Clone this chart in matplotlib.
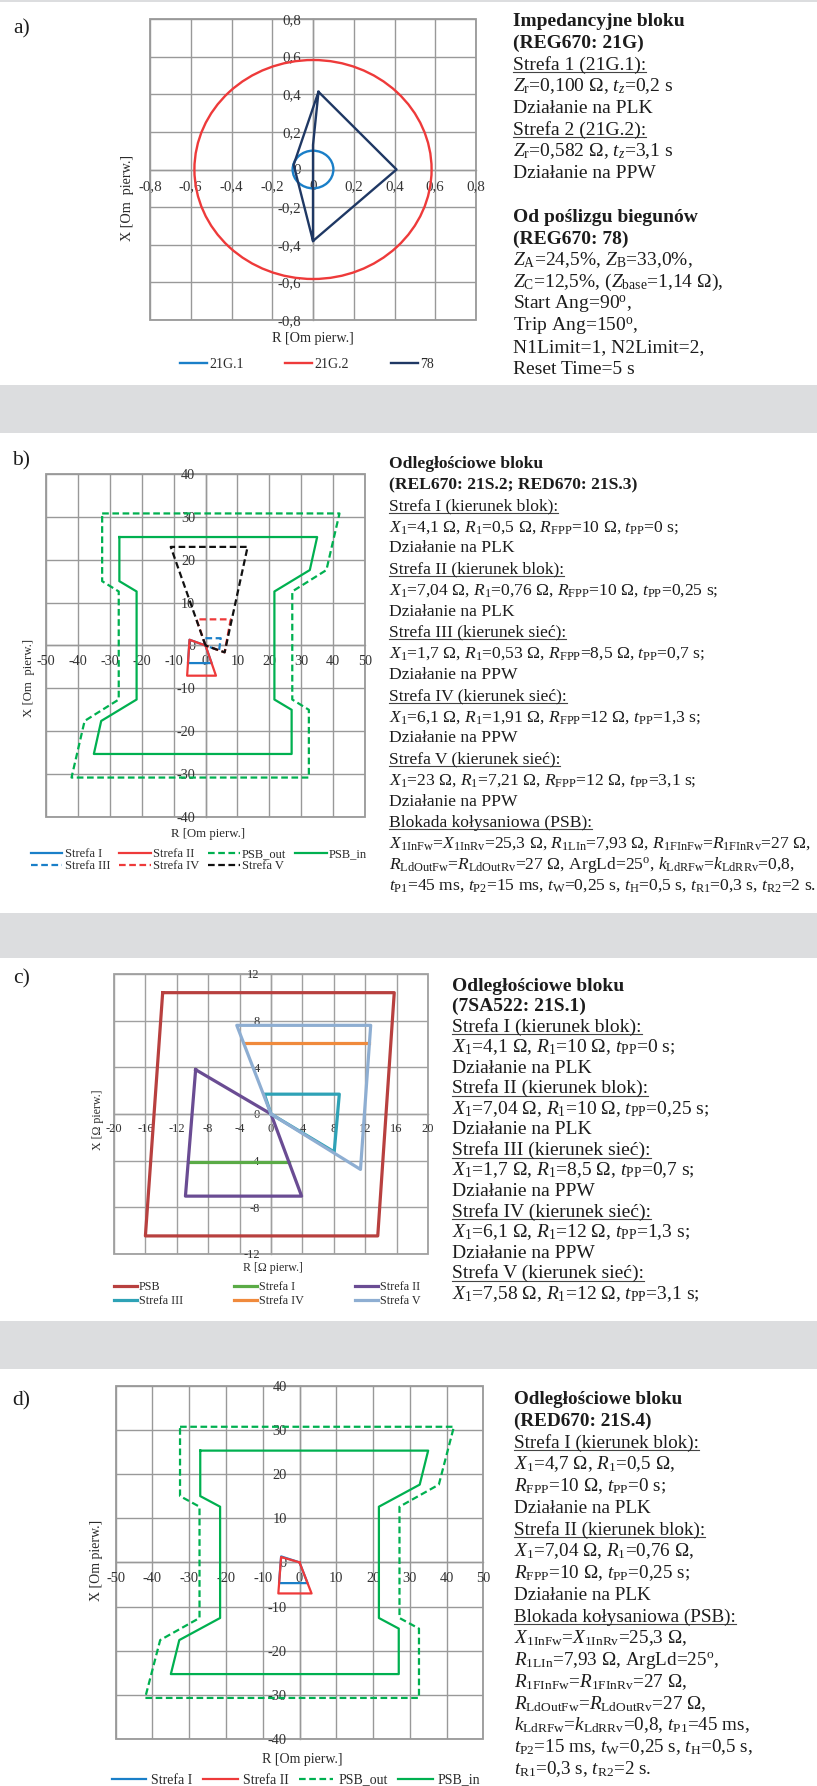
import matplotlib
matplotlib.use('Agg')
import matplotlib.pyplot as plt
from matplotlib.patches import Circle, Rectangle
from matplotlib.lines import Line2D

W, H = 817, 1786
plt.rcParams['font.family'] = ['Liberation Serif', 'DejaVu Serif']
plt.rcParams['mathtext.fontset'] = 'custom'
plt.rcParams['mathtext.rm'] = 'Liberation Serif'
plt.rcParams['mathtext.it'] = 'Liberation Serif:italic'
plt.rcParams['mathtext.bf'] = 'Liberation Serif:bold'

# ------------------------------------------------------------------ data
# panel a) REG670 21G / 78
a_ticks = [-0.8, -0.6, -0.4, -0.2, 0.0, 0.2, 0.4, 0.6, 0.8]
a_ticklabels = ['-0,8', '-0,6', '-0,4', '-0,2', '0', '0,2', '0,4', '0,6', '0,8']
a_21g1_radius = 0.100
a_21g2_radius = 0.582
a_78_R = [0.0, -0.095, 0.027, 0.41, 0.0, 0.0, 0.027]
a_78_X = [-0.38, 0.025, 0.413, 0.0, -0.38, 0.13, 0.413]

# panel b) REL670 / RED670
b_xticks = [-50, -40, -30, -20, -10, 0, 10, 20, 30, 40, 50]
b_xticklabels = ['-50', '-40', '-30', '-20', '-10', '0', '10', '20', '30', '40', '50']
b_yticks = [-40, -30, -20, -10, 0, 10, 20, 30, 40]
b_yticklabels = ['-40', '-30', '-20', '-10', '0', '10', '20', '30', '40']
b_s1_R = [0.0, -5.0, -5.5, 1.9, 0.0]
b_s1_X = [0.0, 1.34, -4.1, -4.1, 0.0]
b_s2_R = [0.0, -5.0, -5.76, 3.28, 0.0]
b_s2_X = [0.0, 1.34, -7.04, -7.04, 0.0]
b_psbout_R = [-32.4, 42.0, 37.9, 27.2, 27.2, 32.4, 32.4, -42.0, -37.9, -27.2, -27.2, -32.4, -32.4]
b_psbout_X = [30.8, 30.8, 17.6, 12.6, -12.6, -15.0, -30.8, -30.8, -17.6, -12.6, 12.6, 15.0, 30.8]
b_psbin_R = [-27.0, 35.0, 32.7, 21.6, 21.6, 27.0, 27.0, -35.0, -32.7, -21.6, -21.6, -27.0, -27.0]
b_psbin_X = [25.3, 25.3, 17.6, 12.6, -12.6, -15.0, -25.3, -25.3, -17.6, -12.6, 12.6, 15.0, 25.3]
b_s3_R = [0.0, -0.8, 4.78, 4.25, 0.0]
b_s3_X = [0.0, 1.7, 1.7, -1.14, 0.0]
b_s4_R = [0.0, -2.84, 7.9, 6.0, 0.0]
b_s4_X = [0.0, 6.1, 6.1, -1.6, 0.0]
b_s5_R = [0.0, -10.9, 13.2, 6.0, 0.0]
b_s5_X = [0.0, 23.0, 23.0, -1.6, 0.0]

# panel c) 7SA522
c_xticks = [-20, -16, -12, -8, -4, 0, 4, 8, 12, 16, 20]
c_xticklabels = ['-20', '-16', '-12', '-8', '-4', '0', '4', '8', '12', '16', '20']
c_yticks = [-12, -8, -4, 0, 4, 8, 12]
c_yticklabels = ['-12', '-8', '-4', '0', '4', '8', '12']
c_psb_R = [-13.8, 15.7, 13.6, -16.0, -13.8]
c_psb_X = [10.4, 10.4, -10.45, -10.45, 10.4]
c_s1_R = [-10.5, 2.25]
c_s1_X = [-4.1, -4.1]
c_s2_R = [-9.6, 0.0, 3.9, -10.9, -9.6]
c_s2_X = [3.8, 0.0, -7.04, -7.04, 3.8]
c_s3_R = [0.0, -0.85, 8.7, 8.05, 0.0]
c_s3_X = [0.0, 1.7, 1.7, -3.25, 0.0]
c_s4_R = [-3.45, 12.5]
c_s4_X = [6.1, 6.1]
c_s5_R = [0.0, -4.36, 12.7, 11.4, 0.0]
c_s5_X = [0.0, 7.6, 7.6, -4.75, 0.0]

# panel d) RED670 21S.4
d_xticks = b_xticks
d_xticklabels = b_xticklabels
d_yticks = b_yticks
d_yticklabels = b_yticklabels
d_s1_R = [0.0, -5.0, -5.57, 2.19, 0.0]
d_s1_X = [0.0, 1.34, -4.7, -4.7, 0.0]
d_s2_R = [0.0, -5.0, -5.76, 3.28, 0.0]
d_s2_X = [0.0, 1.2, -7.04, -7.04, 0.0]
d_psbout_R = [-32.5, 42.0, 37.9, 27.2, 27.2, 32.5, 32.5, -42.0, -37.9, -27.2, -27.2, -32.5, -32.5]
d_psbout_X = [30.7, 30.7, 17.6, 12.6, -12.6, -15.0, -30.7, -30.7, -17.6, -12.6, 12.6, 15.0, 30.7]
d_psbin_R = [-27.0, 35.0, 32.7, 21.6, 21.6, 27.0, 27.0, -35.0, -32.7, -21.6, -21.6, -27.0, -27.0]
d_psbin_X = [25.3, 25.3, 17.6, 12.6, -12.6, -15.0, -25.3, -25.3, -17.6, -12.6, 12.6, 15.0, 25.3]

# ------------------------------------------------------------------ helpers
TXT = '#1c1c1c'
GRID = '#999999'
TICK = '#333333'

fig = plt.figure(figsize=(W / 100, H / 100), dpi=100)
fig.patch.set_facecolor('white')


def fx(px):
    return px / W


def fy(py):
    return 1 - py / H


def band(top, bottom):
    fig.add_artist(Rectangle((0, fy(bottom)), 1, (bottom - top) / H,
                             transform=fig.transFigure, facecolor='#dcdddf',
                             edgecolor='none', zorder=0))


def add_axes_px(left, top, right, bottom):
    return fig.add_axes([fx(left), fy(bottom), (right - left) / W, (bottom - top) / H])


def style_axes(ax, xt, xl, yt, yl, fs, xpad, ypad, gridc=GRID):
    ax.set_xlim(xt[0], xt[-1])
    ax.set_ylim(yt[0], yt[-1])
    ax.set_xticks(xt)
    ax.set_xticklabels(xl)
    ax.set_yticks(yt)
    ax.set_yticklabels(yl)
    ax.grid(True, color=gridc, linewidth=1.0)
    ax.set_axisbelow(True)
    for s in ['top', 'right']:
        ax.spines[s].set_visible(False)
    ax.spines['left'].set_position(('data', 0))
    ax.spines['bottom'].set_position(('data', 0))
    for s in ['left', 'bottom']:
        ax.spines[s].set_color(gridc)
        ax.spines[s].set_linewidth(1.0)
    ax.patch.set_edgecolor(gridc)
    ax.patch.set_linewidth(1.3)
    ax.tick_params(axis='x', length=0, pad=xpad, labelsize=fs, labelcolor=TICK)
    ax.tick_params(axis='y', length=0, pad=ypad, labelsize=fs, labelcolor=TICK)


def add_legend(ax, handles, labels, ncol, x, y, fs, hl, htp, cs, ls=0.0):
    leg = ax.legend(handles, labels, ncol=ncol, loc='center left',
                    bbox_to_anchor=(fx(x), fy(y)), bbox_transform=fig.transFigure,
                    frameon=False, fontsize=fs, handlelength=hl, handletextpad=htp,
                    columnspacing=cs, labelspacing=ls, borderpad=0, borderaxespad=0)
    for t in leg.get_texts():
        t.set_color('#2a2a2a')
    return leg


def label_px(s, x, y, fs, rot=0, color='#2a2a2a'):
    fig.text(fx(x), fy(y), s, fontsize=fs, rotation=rot, ha='center', va='center', color=color)


underlined = []


def text_block(lines, x, y0, step, fs):
    for i, (kind, s) in enumerate(lines):
        if not s:
            continue
        y = y0 + i * step
        t = fig.text(fx(x), fy(y), s, fontsize=fs,
                     fontweight='bold' if kind == 'B' else 'normal',
                     color=TXT, ha='left', va='baseline')
        if kind == 'U':
            underlined.append((t, y, fs))


def v(sym, sub):
    return r'$\mathit{%s}_{\mathrm{%s}}$' % (sym, sub)


DEG = r'$^{\mathrm{o}}$'

# ------------------------------------------------------------------ bands
band(0, 1.5)
band(385, 433)
band(913, 958)
band(1321, 1369)

# ------------------------------------------------------------------ panel a
axa = add_axes_px(150, 19, 476, 320)
style_axes(axa, a_ticks, a_ticklabels, a_ticks, a_ticklabels, 10.8, 7.5, 8.5)
c_blue = '#1a7fc8'
c_red = '#ee3a3a'
c_navy = '#1f3864'
axa.add_patch(Circle((0, 0), a_21g1_radius, fill=False, edgecolor=c_blue, lw=1.7, zorder=3))
axa.add_patch(Circle((0, 0), a_21g2_radius, fill=False, edgecolor=c_red, lw=1.7, zorder=3))
l78, = axa.plot(a_78_R, a_78_X, color=c_navy, lw=1.7, zorder=4)
pa1 = Line2D([], [], color=c_blue, lw=1.7)
pa2 = Line2D([], [], color=c_red, lw=1.7)
add_legend(axa, [pa1, pa2, l78], ['21G.1', '21G.2', '78'], 3, 180, 364, 10, 1.95, 0.15, 3.0)
label_px('R [Om pierw.]', 313, 338, 10.2)
label_px('X [Om  pierw.]', 128, 198, 10.2, rot=90)
fig.text(fx(13), fy(33), 'a)', fontsize=15.5, color=TXT, ha='left', va='baseline')

a_lines = [
    ('B', 'Impedancyjne bloku'),
    ('B', '(REG670: 21G)'),
    ('U', 'Strefa 1 (21G.1):'),
    ('N', v('Z', 'r') + '=0,100 Ω, ' + r'$\mathit{t}_{\mathit{z}}$' + '=0,2 s'),
    ('N', 'Działanie na PLK'),
    ('U', 'Strefa 2 (21G.2):'),
    ('N', v('Z', 'r') + '=0,582 Ω, ' + r'$\mathit{t}_{\mathit{z}}$' + '=3,1 s'),
    ('N', 'Działanie na PPW'),
    ('N', ''),
    ('B', 'Od poślizgu biegunów'),
    ('B', '(REG670: 78)'),
    ('N', v('Z', 'A') + '=24,5%, ' + v('Z', 'B') + '=33,0%,'),
    ('N', v('Z', 'C') + '=12,5%, (' + v('Z', 'base') + '=1,14 Ω),'),
    ('N', 'Start Ang=90' + DEG + ','),
    ('N', 'Trip Ang=150' + DEG + ','),
    ('N', 'N1Limit=1, N2Limit=2,'),
    ('N', 'Reset Time=5 s'),
]
text_block(a_lines, 513, 26, 21.75, 14)

# ------------------------------------------------------------------ panel b
axb = add_axes_px(46, 474, 365, 817)
style_axes(axb, b_xticks, b_xticklabels, b_yticks, b_yticklabels, 10.2, 7, 7.5)
c_green = '#00b050'
c_black = '#111111'
dash = (0, (3, 1.6))
lw_b = 1.6
hb1, = axb.plot(b_s1_R, b_s1_X, color=c_blue, lw=lw_b, zorder=3)
hb2, = axb.plot(b_s2_R, b_s2_X, color=c_red, lw=lw_b, zorder=3)
hb3, = axb.plot(b_psbout_R, b_psbout_X, color=c_green, lw=lw_b, ls=dash, zorder=3)
hb4, = axb.plot(b_psbin_R, b_psbin_X, color=c_green, lw=lw_b, zorder=3)
hb5, = axb.plot(b_s3_R, b_s3_X, color=c_blue, lw=lw_b, ls=dash, zorder=3)
hb6, = axb.plot(b_s4_R, b_s4_X, color=c_red, lw=lw_b, ls=dash, zorder=3)
hb7, = axb.plot(b_s5_R, b_s5_X, color=c_black, lw=lw_b, ls=dash, zorder=3)
add_legend(axb, [hb1, hb5, hb2, hb6, hb3, hb7, hb4],
           ['Strefa I', 'Strefa III', 'Strefa II', 'Strefa IV', 'PSB_out', 'Strefa V', 'PSB_in'],
           4, 31, 860, 9, 2.5, 0.2, 0.72, 0.0)
label_px('R [Om pierw.]', 208, 834, 9.2)
label_px('X [Om  pierw.]', 29, 678, 9.2, rot=90)
fig.text(fx(12), fy(465), 'b)', fontsize=15.5, color=TXT, ha='left', va='baseline')

b_lines = [
    ('B', 'Odległościowe bloku'),
    ('B', '(REL670: 21S.2; RED670: 21S.3)'),
    ('U', 'Strefa I (kierunek blok):'),
    ('N', v('X', '1') + '=4,1 Ω, ' + v('R', '1') + '=0,5 Ω, ' + v('R', 'FPP') + '=10 Ω, ' + v('t', 'PP') + '=0 s;'),
    ('N', 'Działanie na PLK'),
    ('U', 'Strefa II (kierunek blok):'),
    ('N', v('X', '1') + '=7,04 Ω, ' + v('R', '1') + '=0,76 Ω, ' + v('R', 'FPP') + '=10 Ω, ' + v('t', 'PP') + '=0,25 s;'),
    ('N', 'Działanie na PLK'),
    ('U', 'Strefa III (kierunek sieć):'),
    ('N', v('X', '1') + '=1,7 Ω, ' + v('R', '1') + '=0,53 Ω, ' + v('R', 'FPP') + '=8,5 Ω, ' + v('t', 'PP') + '=0,7 s;'),
    ('N', 'Działanie na PPW'),
    ('U', 'Strefa IV (kierunek sieć):'),
    ('N', v('X', '1') + '=6,1 Ω, ' + v('R', '1') + '=1,91 Ω, ' + v('R', 'FPP') + '=12 Ω, ' + v('t', 'PP') + '=1,3 s;'),
    ('N', 'Działanie na PPW'),
    ('U', 'Strefa V (kierunek sieć):'),
    ('N', v('X', '1') + '=23 Ω, ' + v('R', '1') + '=7,21 Ω, ' + v('R', 'FPP') + '=12 Ω, ' + v('t', 'PP') + '=3,1 s;'),
    ('N', 'Działanie na PPW'),
    ('U', 'Blokada kołysaniowa (PSB):'),
    ('N', v('X', '1InFw') + '=' + v('X', '1InRv') + '=25,3 Ω, ' + v('R', '1LIn') + '=7,93 Ω, '
     + v('R', '1FInFw') + '=' + v('R', '1FInRv') + '=27 Ω,'),
    ('N', v('R', 'LdOutFw') + '=' + v('R', 'LdOutRv') + '=27 Ω, ArgLd=25' + DEG + ', '
     + v('k', 'LdRFw') + '=' + v('k', 'LdRRv') + '=0,8,'),
    ('N', v('t', 'P1') + '=45 ms, ' + v('t', 'P2') + '=15 ms, ' + v('t', 'W') + '=0,25 s, '
     + v('t', 'H') + '=0,5 s, ' + v('t', 'R1') + '=0,3 s, ' + v('t', 'R2') + '=2 s.'),
]
text_block(b_lines, 389, 468, 21.1, 12.6)

# ------------------------------------------------------------------ panel c
axc = add_axes_px(114, 974, 428, 1254)
style_axes(axc, c_xticks, c_xticklabels, c_yticks, c_yticklabels, 9, 6.5, 8, gridc='#a0a0a0')
lw_c = 2.3
hc1, = axc.plot(c_psb_R, c_psb_X, color='#b8403f', lw=lw_c, zorder=3)
hc2, = axc.plot(c_s1_R, c_s1_X, color='#5aab46', lw=lw_c, zorder=3)
hc3, = axc.plot(c_s2_R, c_s2_X, color='#6a4c93', lw=lw_c, zorder=3)
hc4, = axc.plot(c_s3_R, c_s3_X, color='#2ea2b6', lw=lw_c, zorder=3)
hc5, = axc.plot(c_s4_R, c_s4_X, color='#f08a3c', lw=lw_c, zorder=3)
hc6, = axc.plot(c_s5_R, c_s5_X, color='#8eaed2', lw=lw_c, zorder=3)
add_legend(axc, [hc1, hc4, hc2, hc5, hc3, hc6],
           ['PSB', 'Strefa III', 'Strefa I', 'Strefa IV', 'Strefa II', 'Strefa V'],
           3, 113.6, 1294, 8.7, 1.95, 0.15, 4.2, 0.2)
label_px('R [Ω pierw.]', 273, 1268, 8.6)
label_px('X [Ω pierw.]', 98, 1120, 8.6, rot=90)
fig.text(fx(13), fy(983), 'c)', fontsize=15.5, color=TXT, ha='left', va='baseline')

c_lines = [
    ('B', 'Odległościowe bloku'),
    ('B', '(7SA522: 21S.1)'),
    ('U', 'Strefa I (kierunek blok):'),
    ('N', v('X', '1') + '=4,1 Ω, ' + v('R', '1') + '=10 Ω, ' + v('t', 'PP') + '=0 s;'),
    ('N', 'Działanie na PLK'),
    ('U', 'Strefa II (kierunek blok):'),
    ('N', v('X', '1') + '=7,04 Ω, ' + v('R', '1') + '=10 Ω, ' + v('t', 'PP') + '=0,25 s;'),
    ('N', 'Działanie na PLK'),
    ('U', 'Strefa III (kierunek sieć):'),
    ('N', v('X', '1') + '=1,7 Ω, ' + v('R', '1') + '=8,5 Ω, ' + v('t', 'PP') + '=0,7 s;'),
    ('N', 'Działanie na PPW'),
    ('U', 'Strefa IV (kierunek sieć):'),
    ('N', v('X', '1') + '=6,1 Ω, ' + v('R', '1') + '=12 Ω, ' + v('t', 'PP') + '=1,3 s;'),
    ('N', 'Działanie na PPW'),
    ('U', 'Strefa V (kierunek sieć):'),
    ('N', v('X', '1') + '=7,58 Ω, ' + v('R', '1') + '=12 Ω, ' + v('t', 'PP') + '=3,1 s;'),
]
text_block(c_lines, 452, 990.5, 20.56, 14)

# ------------------------------------------------------------------ panel d
axd = add_axes_px(115.7, 1385.7, 483.3, 1739)
style_axes(axd, d_xticks, d_xticklabels, d_yticks, d_yticklabels, 10.4, 7, 9)
lw_d = 1.6
hd1, = axd.plot(d_s1_R, d_s1_X, color=c_blue, lw=lw_d, zorder=3)
hd2, = axd.plot(d_s2_R, d_s2_X, color=c_red, lw=lw_d, zorder=3)
hd3, = axd.plot(d_psbout_R, d_psbout_X, color=c_green, lw=lw_d, ls=dash, zorder=3)
hd4, = axd.plot(d_psbin_R, d_psbin_X, color=c_green, lw=lw_d, zorder=3)
add_legend(axd, [hd1, hd2, hd3, hd4], ['Strefa I', 'Strefa II', 'PSB_out', 'PSB_in'],
           4, 111.7, 1780, 10, 2.5, 0.36, 0.74)
label_px('R [Om pierw.]', 302.5, 1760, 10)
label_px('X [Om pierw.]', 96.7, 1560, 10, rot=90)
fig.text(fx(12), fy(1405), 'd)', fontsize=15.5, color=TXT, ha='left', va='baseline')

d_lines = [
    ('B', 'Odległościowe bloku'),
    ('B', '(RED670: 21S.4)'),
    ('U', 'Strefa I (kierunek blok):'),
    ('N', v('X', '1') + '=4,7 Ω, ' + v('R', '1') + '=0,5 Ω,'),
    ('N', v('R', 'FPP') + '=10 Ω, ' + v('t', 'PP') + '=0 s;'),
    ('N', 'Działanie na PLK'),
    ('U', 'Strefa II (kierunek blok):'),
    ('N', v('X', '1') + '=7,04 Ω, ' + v('R', '1') + '=0,76 Ω,'),
    ('N', v('R', 'FPP') + '=10 Ω, ' + v('t', 'PP') + '=0,25 s;'),
    ('N', 'Działanie na PLK'),
    ('U', 'Blokada kołysaniowa (PSB):'),
    ('N', v('X', '1InFw') + '=' + v('X', '1InRv') + '=25,3 Ω,'),
    ('N', v('R', '1LIn') + '=7,93 Ω, ArgLd=25' + DEG + ','),
    ('N', v('R', '1FInFw') + '=' + v('R', '1FInRv') + '=27 Ω,'),
    ('N', v('R', 'LdOutFw') + '=' + v('R', 'LdOutRv') + '=27 Ω,'),
    ('N', v('k', 'LdRFw') + '=' + v('k', 'LdRRv') + '=0,8, ' + v('t', 'P1') + '=45 ms,'),
    ('N', v('t', 'P2') + '=15 ms, ' + v('t', 'W') + '=0,25 s, ' + v('t', 'H') + '=0,5 s,'),
    ('N', v('t', 'R1') + '=0,3 s, ' + v('t', 'R2') + '=2 s.'),
]
text_block(d_lines, 514, 1404, 21.76, 13.8)

# ------------------------------------------------------------------ underlines
fig.canvas.draw()
renderer = fig.canvas.get_renderer()
for t, y, fs in underlined:
    bb = t.get_window_extent(renderer)
    uy = y + 0.14 * fs * 100 / 72
    fig.add_artist(Line2D([bb.x0 / W, bb.x1 / W], [fy(uy), fy(uy)],
                          transform=fig.transFigure, color='#444444', lw=0.8))

fig.savefig('out.png', dpi=100)
